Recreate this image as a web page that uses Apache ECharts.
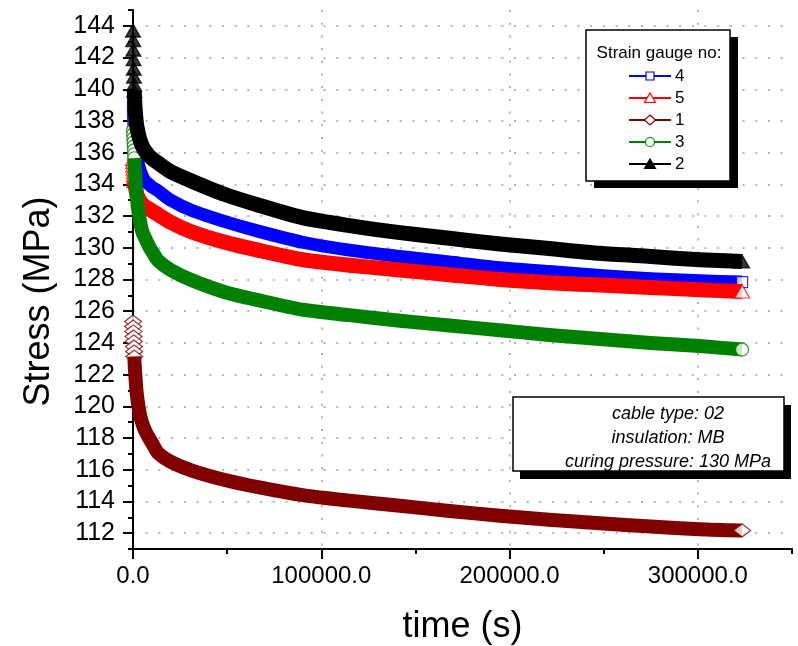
<!DOCTYPE html>
<html>
<head>
<meta charset="utf-8">
<script src="https://cdn.jsdelivr.net/npm/echarts@6/dist/echarts.min.js"></script>
<style>
  html, body { margin: 0; padding: 0; background: #ffffff; }
  #chart { width: 798px; height: 646px; }
</style>
</head>
<body>
<div id="chart"></div>
<script>
// Sampling times (s), shared by all strain gauges
const times = [0, 100, 200, 300, 400, 500, 600, 700,
  1000, 1500, 2000, 3000, 4000, 5000, 6500, 8500, 10500,
  13300, 20000, 31300, 48900, 66400, 90000, 115000, 141800,
  168000, 194900, 221000, 248000, 275000, 301000, 323500];

// Stress (MPa) per strain gauge
const gauge4 = [138.9, 138.6, 138.3, 138.0, 137.7, 137.4, 137.1, 136.8,
  136.5, 136.2, 135.8, 135.2, 134.8, 134.5, 134.2, 134.0, 133.8,
  133.6, 133.0, 132.35, 131.65, 131.05, 130.35, 129.85, 129.45,
  129.1, 128.75, 128.5, 128.25, 128.05, 127.92, 127.84];
const gauge5 = [135.6, 135.4, 135.2, 135.0, 134.8, 134.6, 134.4, 134.2,
  134.0, 133.7, 133.4, 133.1, 132.9, 132.75, 132.6, 132.45, 132.3,
  132.1, 131.6, 131.0, 130.35, 129.85, 129.25, 128.9, 128.6,
  128.3, 128.0, 127.8, 127.65, 127.5, 127.35, 127.24];
const gauge1 = [125.35, 125.03, 124.72, 124.40, 124.09, 123.77, 123.46, 123.14,
  122.4, 121.5, 120.8, 119.9, 119.3, 118.9, 118.45, 118.0, 117.6,
  117.06, 116.5, 115.95, 115.35, 114.9, 114.4, 114.05, 113.73,
  113.4, 113.1, 112.85, 112.62, 112.42, 112.25, 112.17];
const gauge3 = [137.4, 137.15, 136.9, 136.65, 136.4, 136.15, 135.9, 135.65,
  135.0, 134.0, 133.2, 132.2, 131.5, 131.0, 130.6, 130.1, 129.7,
  129.2, 128.6, 127.95, 127.2, 126.7, 126.1, 125.75, 125.4,
  125.1, 124.8, 124.5, 124.25, 124.0, 123.8, 123.58];
const gauge2 = [143.7, 143.1, 142.5, 141.9, 141.3, 140.8, 140.3, 139.9,
  139.0, 138.2, 137.7, 137.1, 136.7, 136.4, 136.1, 135.8, 135.6,
  135.35, 134.8, 134.2, 133.36, 132.7, 131.9, 131.4, 130.96,
  130.6, 130.24, 129.95, 129.65, 129.45, 129.25, 129.14];

// Axis ticks
const xMajorTicks = [0, 100000, 200000, 300000];
const xMinorTicks = [50000, 150000, 250000, 350000];
const yMajorTicks = [112, 114, 116, 118, 120, 122, 124, 126, 128, 130, 132, 134, 136, 138, 140, 142, 144];
const yMinorTicks = [111, 113, 115, 117, 119, 121, 123, 125, 127, 129, 131, 133, 135, 137, 139, 141, 143, 145];

const legendTitle = 'Strain gauge no:';
const noteLines = ['cable type: 02', 'insulation: MB', 'curing pressure: 130 MPa'];

const FONT = '"Liberation Sans", Arial, sans-serif';

const gauges = [
  { name: '4', values: gauge4, color: '#0000ff', symbol: 'rect', size: [11, 11], fill: '#ffffff', width: 13 },
  { name: '5', values: gauge5, color: '#ff0000', symbol: 'triangle', size: [15, 13], fill: '#ffffff', width: 15 },
  { name: '1', values: gauge1, color: '#800000', symbol: 'diamond', size: [17, 13], fill: '#ffffff', width: 14 },
  { name: '3', values: gauge3, color: '#008000', symbol: 'circle', size: 13, fill: '#ffffff', width: 14 },
  { name: '2', values: gauge2, color: '#000000', symbol: 'triangle', size: [15, 13], fill: '#000000', width: 15 }
];

// First readings are drawn as individual markers, the rest as a dense band;
// each gauge is stacked above the previous one
const EARLY = 8;
const series = [];
gauges.forEach((g, k) => {
  const pts = times.map((t, i) => [t, g.values[i]]);
  const markerStyle = { color: g.fill, borderColor: g.color, borderWidth: 1.2 };
  const zBase = 10 + k * 3;
  series.push({
    name: g.name, type: 'scatter', data: pts.slice(0, EARLY), z: zBase,
    symbol: g.symbol, symbolSize: g.size, itemStyle: markerStyle,
    silent: true, animation: false
  });
  series.push({
    name: g.name, type: 'line', data: pts.slice(EARLY - 1), z: zBase + 1,
    symbol: 'none', showSymbol: false, smooth: 0.25,
    lineStyle: { color: g.color, width: g.width, cap: 'butt', join: 'round' },
    silent: true, animation: false
  });
  series.push({
    name: g.name, type: 'scatter', data: pts.slice(-1), z: zBase + 2,
    symbol: g.symbol, symbolSize: g.size, itemStyle: markerStyle,
    silent: true, animation: false
  });
});

// Legend box and annotation box
const graphics = [];
const LBX = 586, LBY = 30, LBW = 144, LBH = 151;
graphics.push({ type: 'rect', shape: { x: LBX + 8, y: LBY + 7, width: LBW, height: LBH }, style: { fill: '#000' }, z: 100 });
graphics.push({ type: 'rect', shape: { x: LBX, y: LBY, width: LBW, height: LBH }, style: { fill: '#fff', stroke: '#000', lineWidth: 1.5 }, z: 101 });
graphics.push({ type: 'text', x: 659, y: 53, style: { text: legendTitle, font: '17px ' + FONT, fill: '#000', textAlign: 'center', textVerticalAlign: 'middle' }, z: 102 });

function legendSymbol(g, cx, cy) {
  const st = { fill: g.fill, stroke: g.color, lineWidth: 1.2 };
  if (g.symbol === 'rect') return { type: 'rect', shape: { x: cx - 4, y: cy - 4, width: 8, height: 8 }, style: st, z: 103 };
  if (g.symbol === 'circle') return { type: 'circle', shape: { cx: cx, cy: cy, r: 4.5 }, style: st, z: 103 };
  if (g.symbol === 'diamond') return { type: 'polygon', shape: { points: [[cx, cy - 5], [cx + 5.5, cy], [cx, cy + 5], [cx - 5.5, cy]] }, style: st, z: 103 };
  return { type: 'polygon', shape: { points: [[cx, cy - 5], [cx + 5.5, cy + 4.5], [cx - 5.5, cy + 4.5]] }, style: st, z: 103 };
}
gauges.forEach((g, i) => {
  const cy = 76 + i * 22;
  graphics.push({ type: 'line', shape: { x1: 629, y1: cy, x2: 671, y2: cy }, style: { stroke: g.color, lineWidth: 2 }, z: 102 });
  graphics.push(legendSymbol(g, 650, cy));
  graphics.push({ type: 'text', x: 675, y: cy, style: { text: g.name, font: '17px ' + FONT, fill: '#000', textAlign: 'left', textVerticalAlign: 'middle' }, z: 102 });
});

const NBX = 513, NBY = 397, NBW = 271, NBH = 74;
graphics.push({ type: 'rect', shape: { x: NBX + 7, y: NBY + 8, width: NBW, height: NBH }, style: { fill: '#000' }, z: 100 });
graphics.push({ type: 'rect', shape: { x: NBX, y: NBY, width: NBW, height: NBH }, style: { fill: '#fff', stroke: '#000', lineWidth: 1.5 }, z: 101 });
noteLines.forEach((t, i) => {
  graphics.push({ type: 'text', x: 668, y: 414 + i * 24, style: { text: t, font: 'italic 18px ' + FONT, fill: '#000', textAlign: 'center', textVerticalAlign: 'middle' }, z: 102 });
});

const gridLine = { show: true, lineStyle: { color: '#b4b4b4', width: 2, type: [2, 10.7] } };

const option = {
  backgroundColor: '#ffffff',
  animation: false,
  grid: { left: 133, top: 10, width: 659, height: 539, containLabel: false, outerBoundsMode: 'none' },
  xAxis: [{
    type: 'value', min: 0, max: 350000, position: 'bottom',
    axisLine: { show: true, onZero: false, lineStyle: { color: '#000', width: 2 } },
    axisTick: { show: true, customValues: xMajorTicks, length: 10, lineStyle: { color: '#000', width: 2 } },
    axisLabel: { customValues: xMajorTicks, formatter: v => v.toFixed(1), color: '#000', fontSize: 24, fontFamily: FONT, margin: 15 },
    splitLine: gridLine,
    name: 'time (s)', nameLocation: 'middle', nameGap: 60,
    nameTextStyle: { fontSize: 36, fontFamily: FONT, color: '#000' }
  }, {
    type: 'value', min: 0, max: 350000, position: 'bottom',
    axisLine: { show: false, onZero: false },
    axisTick: { show: true, customValues: xMinorTicks, length: 5, lineStyle: { color: '#000', width: 2 } },
    axisLabel: { show: false },
    splitLine: { show: false }
  }],
  yAxis: [{
    type: 'value', min: 111, max: 145, position: 'left',
    axisLine: { show: true, onZero: false, lineStyle: { color: '#000', width: 2 } },
    axisTick: { show: true, customValues: yMajorTicks, length: 10, lineStyle: { color: '#000', width: 2 } },
    axisLabel: { customValues: yMajorTicks, color: '#000', fontSize: 25, fontFamily: FONT, margin: 18 },
    splitLine: gridLine,
    name: 'Stress (MPa)', nameLocation: 'middle', nameGap: 76,
    nameTextStyle: { fontSize: 36, fontFamily: FONT, color: '#000', padding: [0, 44, 0, 0] }
  }, {
    type: 'value', min: 111, max: 145, position: 'left',
    axisLine: { show: false, onZero: false },
    axisTick: { show: true, customValues: yMinorTicks, length: 5, lineStyle: { color: '#000', width: 2 } },
    axisLabel: { show: false },
    splitLine: { show: false }
  }],
  series: series,
  graphic: graphics
};

const chart = echarts.init(document.getElementById('chart'), null, { renderer: 'canvas' });
chart.setOption(option);
</script>
</body>
</html>
